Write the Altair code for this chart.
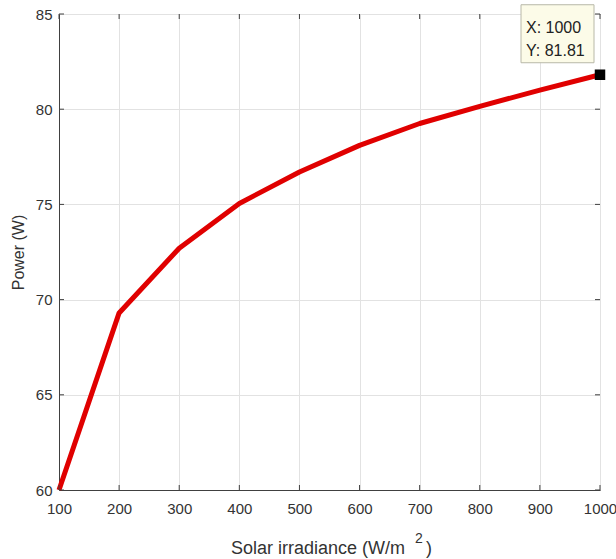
import altair as alt
import pandas as pd

# Solar irradiance sweep and the resulting PV output power
irradiance = [100, 200, 300, 400, 500, 600, 700, 800, 900, 1000]
power = [60.0, 69.3, 72.7, 75.05, 76.7, 78.1, 79.25, 80.15, 81.0, 81.81]

x_ticks = [100, 200, 300, 400, 500, 600, 700, 800, 900, 1000]
y_ticks = [60, 65, 70, 75, 80, 85]

W, H = 541, 476
AX = "#404040"
TXT = "#333333"
FONT = "Liberation Sans"

df = pd.DataFrame({"irr": irradiance, "pw": power})
tip = df.tail(1).assign(
    lx="X: " + df.tail(1)["irr"].astype(str),
    ly="Y: " + df.tail(1)["pw"].map(lambda v: f"{v:.2f}"),
)

xs = alt.Scale(domain=[100, 1000], nice=False, zero=False)
ys = alt.Scale(domain=[60, 85], nice=False, zero=False)

x_enc = alt.X(
    "irr:Q", scale=xs,
    axis=alt.Axis(values=x_ticks, title=None, ticks=False, format="d",
                  labelPadding=11, labelFlush=False),
)
y_enc = alt.Y(
    "pw:Q", scale=ys,
    axis=alt.Axis(values=y_ticks, title="Power (W)", ticks=False,
                  labelPadding=7, titlePadding=9),
)

line = alt.Chart(df).mark_line(color="#e00000", strokeWidth=5, strokeJoin="round").encode(
    x=x_enc, y=y_enc
)

marker = alt.Chart(tip).mark_square(color="black", size=110, opacity=1).encode(
    x=alt.X("irr:Q", scale=xs), y=alt.Y("pw:Q", scale=ys)
)

box = alt.Chart(tip).mark_rect(
    fill="#fcfbe8", stroke="#b8b8a8", strokeWidth=1,
    xOffset=-79, x2Offset=-6, yOffset=-70, y2Offset=-12,
).encode(
    x=alt.X("irr:Q", scale=xs), x2="irr:Q",
    y=alt.Y("pw:Q", scale=ys), y2="pw:Q",
)

tip_x = alt.Chart(tip).mark_text(
    align="left", baseline="middle", font=FONT, fontSize=16, color="#222222",
    dx=-74, dy=-47,
).encode(x=alt.X("irr:Q", scale=xs), y=alt.Y("pw:Q", scale=ys), text="lx:N")

tip_y = alt.Chart(tip).mark_text(
    align="left", baseline="middle", font=FONT, fontSize=16, color="#222222",
    dx=-74, dy=-24,
).encode(x=alt.X("irr:Q", scale=xs), y=alt.Y("pw:Q", scale=ys), text="ly:N")

# inward tick marks on all four sides of the box
xt = pd.DataFrame({"irr": x_ticks})
yt = pd.DataFrame({"pw": y_ticks})
xtick_b = alt.Chart(xt).mark_rule(color=AX, strokeWidth=1).encode(
    x=alt.X("irr:Q", scale=xs), y=alt.value(H), y2=alt.value(H - 5))
xtick_t = alt.Chart(xt).mark_rule(color=AX, strokeWidth=1).encode(
    x=alt.X("irr:Q", scale=xs), y=alt.value(0), y2=alt.value(5))
ytick_l = alt.Chart(yt).mark_rule(color=AX, strokeWidth=1).encode(
    y=alt.Y("pw:Q", scale=ys), x=alt.value(0), x2=alt.value(5))
ytick_r = alt.Chart(yt).mark_rule(color=AX, strokeWidth=1).encode(
    y=alt.Y("pw:Q", scale=ys), x=alt.value(W), x2=alt.value(W - 5))

# x-axis title with a raised exponent
title_src = pd.DataFrame({"t": ["Solar irradiance (W/m"]})
sup_src = pd.DataFrame({"t": ["2"]})
close_src = pd.DataFrame({"t": [")"]})
title_main = alt.Chart(title_src).mark_text(
    align="left", baseline="alphabetic", font=FONT, fontSize=18, color=TXT
).encode(x=alt.value(172), y=alt.value(H + 64), text="t:N")
title_sup = alt.Chart(sup_src).mark_text(
    align="left", baseline="alphabetic", font=FONT, fontSize=14, color=TXT
).encode(x=alt.value(356), y=alt.value(H + 53), text="t:N")
title_close = alt.Chart(close_src).mark_text(
    align="left", baseline="alphabetic", font=FONT, fontSize=18, color=TXT
).encode(x=alt.value(367), y=alt.value(H + 64), text="t:N")

chart = (
    alt.layer(line, xtick_b, xtick_t, ytick_l, ytick_r, marker, box, tip_x, tip_y,
              title_main, title_sup, title_close)
    .properties(
        width=W, height=H,
        autosize=alt.AutoSizeParams(type="none"),
        padding={"left": 59, "top": 14, "right": 16, "bottom": 69},
        background="white",
    )
    .configure_view(stroke=AX, strokeWidth=1)
    .configure_axis(
        domainColor=AX, domainWidth=1,
        gridColor="#e2e2e2", gridWidth=1,
        labelFont=FONT, labelFontSize=15, labelColor=TXT,
        titleFont=FONT, titleFontSize=16, titleColor=TXT, titleFontWeight="normal",
    )
)

chart.save("out.html", embed_options={"renderer": "svg", "actions": False})
